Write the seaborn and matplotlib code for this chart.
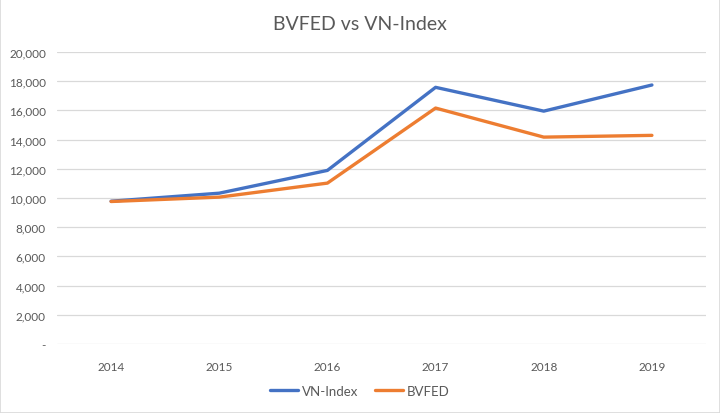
import numpy as np
import pandas as pd
import matplotlib
matplotlib.use("Agg")
import matplotlib.pyplot as plt
import seaborn as sns
from matplotlib.patches import Rectangle
from matplotlib.lines import Line2D

years = ["2014", "2015", "2016", "2017", "2018", "2019"]
vn_index = [9780, 10330, 11890, 17580, 15950, 17740]
bvfed = [9760, 10060, 11020, 16160, 14170, 14290]
series_names = ["VN-Index", "BVFED"]
y_ticks = [0, 2000, 4000, 6000, 8000, 10000, 12000, 14000, 16000, 18000, 20000]
title = "BVFED vs VN-Index"

df = pd.DataFrame({
    "year": years * 2,
    "x": list(range(len(years))) * 2,
    "value": vn_index + bvfed,
    "series": [series_names[0]] * len(years) + [series_names[1]] * len(years),
})

sns.set_theme(style="white")
plt.rcParams["font.family"] = ["Lato", "DejaVu Sans"]

fig = plt.figure(figsize=(7.2, 4.14), dpi=100)
ax = fig.add_axes([57 / 720, 1 - 345 / 414, (706 - 57) / 720, (345 - 53) / 414])

palette = {"VN-Index": "#4472C4", "BVFED": "#ED7D31"}
sns.lineplot(data=df, x="x", y="value", hue="series", palette=palette,
             linewidth=2.4, ax=ax, legend=False, sort=False)

ax.set_xlim(-0.5, len(years) - 0.5)
ax.set_ylim(0, 20000)
ax.set_yticks(y_ticks)
ax.set_yticklabels(["-" if v == 0 else f"{v:,}" for v in y_ticks])
ax.set_xticks(range(len(years)))
ax.set_xticklabels(years)
ax.grid(axis="y", color="#D9D9D9", linewidth=0.9)
ax.set_axisbelow(True)
for s in ax.spines.values():
    s.set_visible(False)
ax.tick_params(axis="both", length=0, colors="#595959", labelsize=8.5)
ax.tick_params(axis="x", pad=12)
ax.tick_params(axis="y", pad=8)
ax.set_xlabel("")
ax.set_ylabel("")

fig.text(0.5, 1 - 25 / 414, title, ha="center", va="center", fontsize=14, color="#595959")

handles = [Line2D([0], [0], color=palette[n], linewidth=2.4) for n in series_names]
fig.legend(handles, series_names, loc="center", bbox_to_anchor=(0.5, 1 - 392 / 414),
           ncol=2, frameon=False, fontsize=9.5, labelcolor="#595959",
           handlelength=2.1, columnspacing=1.3, handletextpad=0.3)

fig.patches.append(Rectangle((0, 0), 1, 1, transform=fig.transFigure, fill=False,
                             edgecolor="#D9D9D9", linewidth=1.2))

fig.savefig("out.png", dpi=100, facecolor="white")
